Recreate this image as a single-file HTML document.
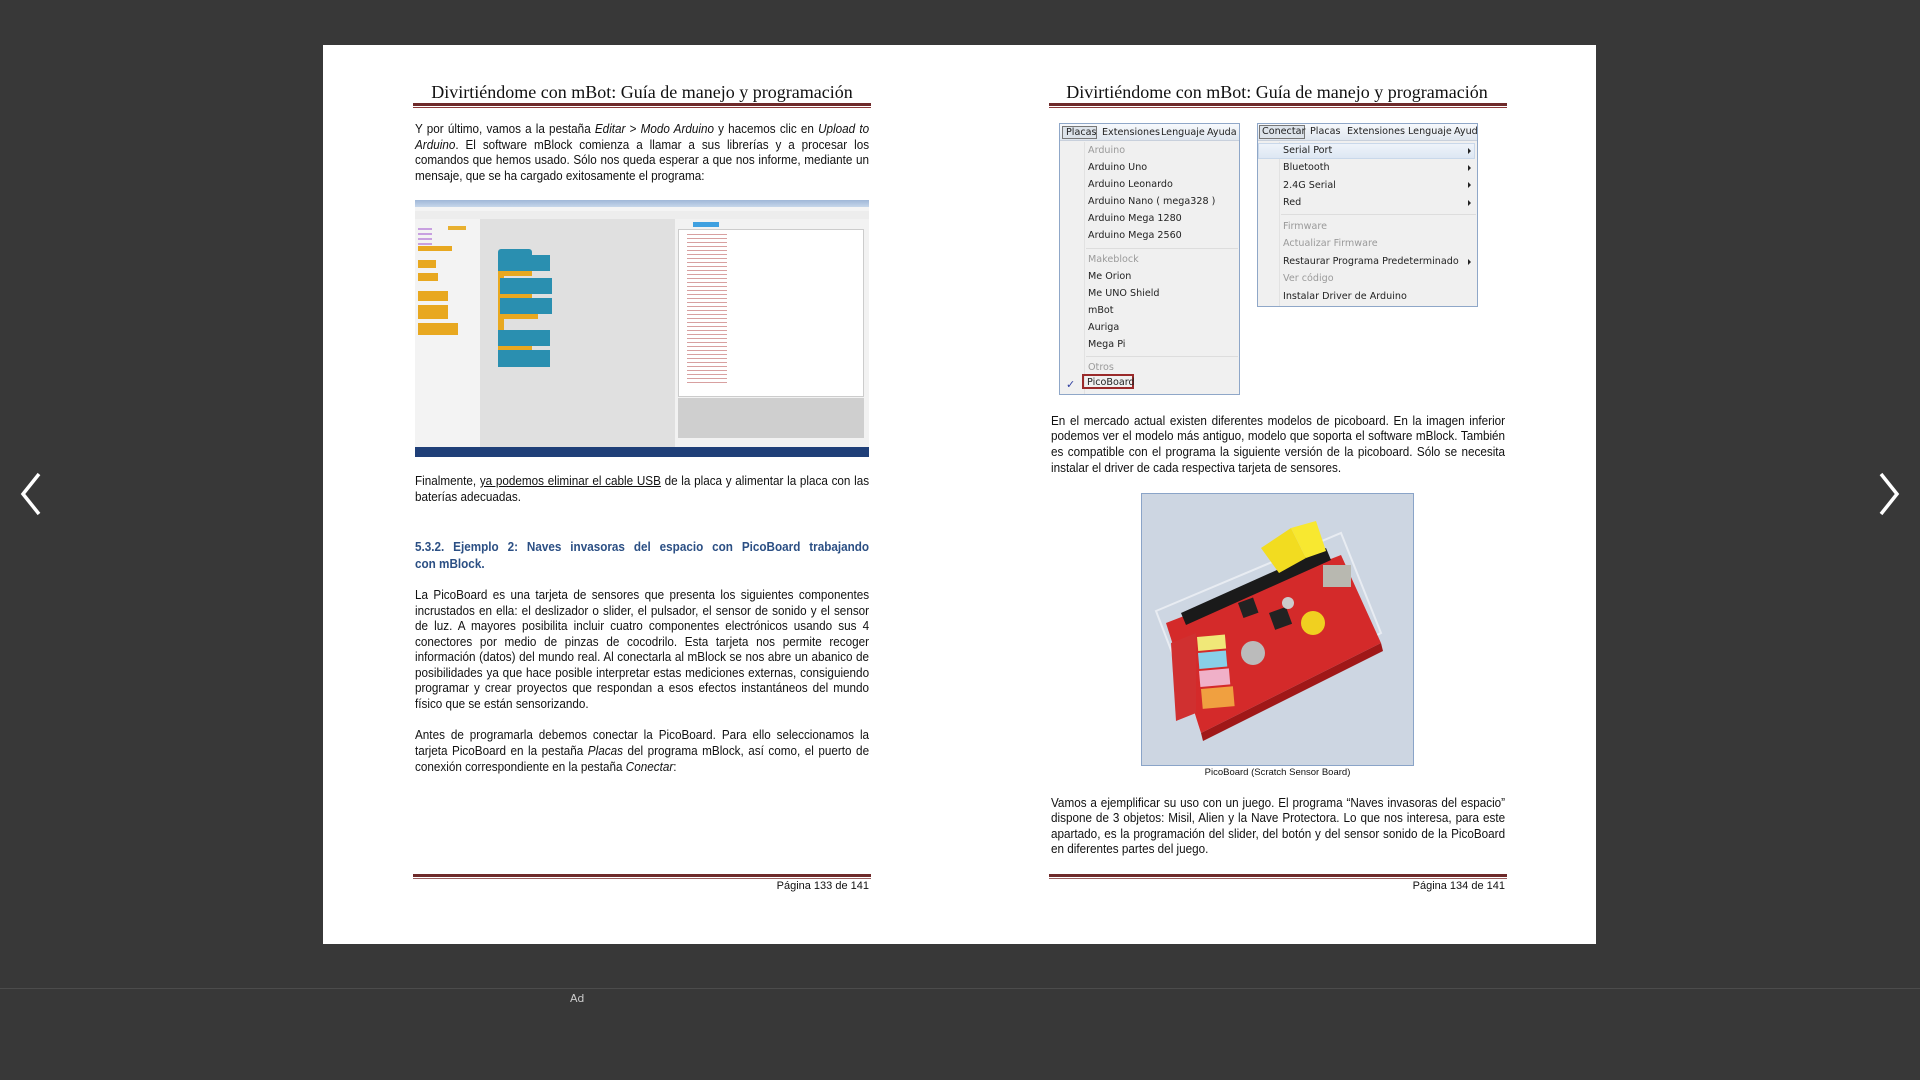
<!DOCTYPE html>
<html><head><meta charset="utf-8">
<style>
*{margin:0;padding:0;box-sizing:border-box}
body{width:1920px;height:1080px;background:#383838;position:relative;overflow:hidden;font-family:"Liberation Sans",sans-serif}
.page{position:absolute;left:323px;top:45px;width:1273px;height:899px;background:#fff}
.abs{position:absolute}
.hdr{position:absolute;font-family:"Liberation Serif",serif;font-size:18px;color:#111;white-space:nowrap;text-align:center;width:460px}
.rule{position:absolute;height:5px;border-top:3px solid #6e2a2a;border-bottom:1px solid #8b3a3a}
.ln{position:absolute;height:16px;font-size:13.3px;line-height:16px;color:#111;white-space:nowrap;transform-origin:0 0;transform:scaleX(0.88);text-align:justify;text-align-last:justify}
.ln.l{text-align-last:left}
.frule{position:absolute;height:5px;border-top:3px solid #6e2a2a;border-bottom:1px solid #9a6060}
.menu{position:absolute;background:#f0f0f0;border:1px solid #8fa7c8;font-family:"DejaVu Sans",sans-serif;font-size:9.6px;color:#222}
.menu .it{position:absolute;white-space:nowrap}
.gray{color:#9a9a9a}
.arr{position:absolute;width:0;height:0;border-top:3px solid transparent;border-bottom:3px solid transparent;border-left:3px solid #222}
</style></head><body>
<div class="page"></div>

<svg class="abs" style="left:18px;top:470px" width="26" height="48"><polyline points="21,4 5,24 21,44" fill="none" stroke="#fff" stroke-width="3.5"/></svg>
<svg class="abs" style="left:1876px;top:470px" width="26" height="48"><polyline points="5,4 21,24 5,44" fill="none" stroke="#fff" stroke-width="3.5"/></svg>

<div class="abs" style="left:0;top:988px;width:1920px;height:1px;background:#4c4c4c"></div>
<div class="abs" style="left:570px;top:992px;font-size:11px;color:#ccc;font-family:'DejaVu Sans',sans-serif">Ad</div>

<!-- LEFT PAGE -->
<div class="hdr" style="left:412px;top:82px">Divirtiéndome con mBot: Guía de manejo y programación</div>
<div class="rule" style="left:413px;top:103px;width:458px"></div>

<div class="ln" style="left:415px;top:121px;width:516px">Y por último, vamos a la pestaña <i>Editar</i> &gt; <i>Modo Arduino</i> y hacemos clic en <i>Upload to</i></div>
<div class="ln" style="left:415px;top:137px;width:516px"><i>Arduino</i>. El software mBlock comienza a llamar a sus librerías y a procesar los</div>
<div class="ln" style="left:415px;top:152px;width:516px">comandos que hemos usado. Sólo nos queda esperar a que nos informe, mediante un</div>
<div class="ln l" style="left:415px;top:168px;width:516px">mensaje, que se ha cargado exitosamente el programa:</div>

<div class="abs" style="left:415px;top:200px;width:454px;height:257px;background:#e6e6e6;overflow:hidden">
  <div class="abs" style="left:0;top:0;width:454px;height:7px;background:linear-gradient(#9fb7d8,#c6d6ea)"></div>
  <div class="abs" style="left:0;top:7px;width:454px;height:4px;background:#f4f4f4"></div>
  <div class="abs" style="left:0;top:11px;width:454px;height:8px;background:#ededed"></div>
  <div class="abs" style="left:0;top:19px;width:65px;height:228px;background:#f3f3f3"></div>
  <div class="abs" style="left:65px;top:19px;width:195px;height:228px;background:#e0e0e0"></div>
  <div class="abs" style="left:260px;top:19px;width:194px;height:228px;background:#f2f2f2"></div>
  <div class="abs" style="left:263px;top:29px;width:186px;height:168px;background:#fff;border:1px solid #ccc"></div>
  <div class="abs" style="left:263px;top:198px;width:186px;height:40px;background:#cfcfcf"></div>
  <div class="abs" style="left:278px;top:22px;width:26px;height:5px;background:#3fa0e0"></div>
  <div class="abs" style="left:3px;top:28px;width:14px;height:24px;background:repeating-linear-gradient(#c8a0e0 0 2px,#f3f3f3 2px 5px)"></div>
  <div class="abs" style="left:33px;top:26px;width:18px;height:4px;background:#e8b030"></div>
  <div class="abs" style="left:3px;top:46px;width:34px;height:5px;background:#e8a820"></div>
  <div class="abs" style="left:3px;top:60px;width:18px;height:8px;background:#e8a820"></div>
  <div class="abs" style="left:3px;top:73px;width:20px;height:8px;background:#e8a820"></div>
  <div class="abs" style="left:3px;top:91px;width:30px;height:10px;background:#e8a820"></div>
  <div class="abs" style="left:3px;top:105px;width:30px;height:14px;background:#e8a820"></div>
  <div class="abs" style="left:3px;top:123px;width:40px;height:12px;background:#e8a820"></div>
  <div class="abs" style="left:83px;top:49px;width:34px;height:6px;background:#2a8fb0;border-radius:3px 3px 0 0"></div>
  <div class="abs" style="left:83px;top:55px;width:52px;height:16px;background:#2a8fb0"></div>
  <div class="abs" style="left:83px;top:71px;width:34px;height:5px;background:#e8a820"></div>
  <div class="abs" style="left:83px;top:76px;width:6px;height:58px;background:#e8a820"></div>
  <div class="abs" style="left:85px;top:78px;width:52px;height:16px;background:#2a8fb0"></div>
  <div class="abs" style="left:85px;top:94px;width:32px;height:4px;background:#e8a820"></div>
  <div class="abs" style="left:85px;top:98px;width:52px;height:16px;background:#2a8fb0"></div>
  <div class="abs" style="left:85px;top:114px;width:38px;height:5px;background:#e8a820"></div>
  <div class="abs" style="left:83px;top:130px;width:52px;height:16px;background:#2a8fb0"></div>
  <div class="abs" style="left:83px;top:146px;width:34px;height:4px;background:#e8a820"></div>
  <div class="abs" style="left:83px;top:150px;width:52px;height:17px;background:#2a8fb0"></div>
  <div class="abs" style="left:272px;top:34px;width:40px;height:150px;background:repeating-linear-gradient(#d8a0a0 0 1px,#fff 1px 4px)"></div>
  <div class="abs" style="left:0;top:247px;width:454px;height:10px;background:#1f3f78"></div>
</div>

<div class="ln" style="left:415px;top:473px;width:516px">Finalmente, <u>ya podemos eliminar el cable USB</u> de la placa y alimentar la placa con las</div>
<div class="ln l" style="left:415px;top:489px;width:516px">baterías adecuadas.</div>

<div class="ln" style="left:415px;top:539px;width:516px;font-weight:bold;color:#2b4f84">5.3.2. Ejemplo 2: Naves invasoras del espacio con PicoBoard trabajando</div>
<div class="ln l" style="left:415px;top:556px;width:516px;font-weight:bold;color:#2b4f84">con mBlock.</div>

<div class="ln" style="left:415px;top:587px;width:516px">La PicoBoard es una tarjeta de sensores que presenta los siguientes componentes</div>
<div class="ln" style="left:415px;top:603px;width:516px">incrustados en ella: el deslizador o slider, el pulsador, el sensor de sonido y el sensor</div>
<div class="ln" style="left:415px;top:618px;width:516px">de luz. A mayores posibilita incluir cuatro componentes electrónicos usando sus 4</div>
<div class="ln" style="left:415px;top:634px;width:516px">conectores por medio de pinzas de cocodrilo. Esta tarjeta nos permite recoger</div>
<div class="ln" style="left:415px;top:649px;width:516px">información (datos) del mundo real. Al conectarla al mBlock se nos abre un abanico de</div>
<div class="ln" style="left:415px;top:665px;width:516px">posibilidades ya que hace posible interpretar estas mediciones externas, consiguiendo</div>
<div class="ln" style="left:415px;top:680px;width:516px">programar y crear proyectos que respondan a esos efectos instantáneos del mundo</div>
<div class="ln l" style="left:415px;top:696px;width:516px">físico que se están sensorizando.</div>

<div class="ln" style="left:415px;top:727px;width:516px">Antes de programarla debemos conectar la PicoBoard. Para ello seleccionamos la</div>
<div class="ln" style="left:415px;top:743px;width:516px">tarjeta PicoBoard en la pestaña <i>Placas</i> del programa mBlock, así como, el puerto de</div>
<div class="ln l" style="left:415px;top:759px;width:516px">conexión correspondiente en la pestaña <i>Conectar</i>:</div>

<div class="frule" style="left:413px;top:874px;width:458px"></div>
<div class="abs" style="left:720px;top:880px;width:149px;text-align:right;font-size:11px;color:#111">Página 133 de 141</div>

<!-- RIGHT PAGE -->
<div class="hdr" style="left:1047px;top:82px">Divirtiéndome con mBot: Guía de manejo y programación</div>
<div class="rule" style="left:1049px;top:103px;width:458px"></div>

<div class="menu" style="left:1059px;top:123px;width:181px;height:272px">
  <div class="abs" style="left:0;top:0;width:179px;height:17px;background:linear-gradient(#f7f9fc,#dfe6ef);border-bottom:1px solid #c8d0dc"></div>
  <div class="abs" style="left:2px;top:2px;width:35px;height:13px;border:1px solid #777;background:#dde3ea"></div>
  <div class="it" style="left:6px;top:3px">Placas</div>
  <div class="it" style="left:42px;top:3px">Extensiones</div>
  <div class="it" style="left:101px;top:3px">Lenguaje</div>
  <div class="it" style="left:147px;top:3px">Ayuda</div>
  <div class="abs" style="left:24px;top:18px;width:1px;height:252px;background:#e2e2e2"></div>
  <div class="it gray" style="left:28px;top:21px">Arduino</div>
  <div class="it" style="left:28px;top:38px">Arduino Uno</div>
  <div class="it" style="left:28px;top:55px">Arduino Leonardo</div>
  <div class="it" style="left:28px;top:72px">Arduino Nano ( mega328 )</div>
  <div class="it" style="left:28px;top:89px">Arduino Mega 1280</div>
  <div class="it" style="left:28px;top:106px">Arduino Mega 2560</div>
  <div class="abs" style="left:26px;top:124px;width:152px;height:1px;background:#ddd"></div>
  <div class="it gray" style="left:28px;top:130px">Makeblock</div>
  <div class="it" style="left:28px;top:147px">Me Orion</div>
  <div class="it" style="left:28px;top:164px">Me UNO Shield</div>
  <div class="it" style="left:28px;top:181px">mBot</div>
  <div class="it" style="left:28px;top:198px">Auriga</div>
  <div class="it" style="left:28px;top:215px">Mega Pi</div>
  <div class="abs" style="left:26px;top:232px;width:152px;height:1px;background:#ddd"></div>
  <div class="it gray" style="left:28px;top:238px">Otros</div>
  <div class="it" style="left:6px;top:254px;color:#3040a0;font-size:11px">✓</div>
  <div class="abs" style="left:22px;top:250px;width:52px;height:15px;border:2px solid #9a2a2a"></div>
  <div class="it" style="left:27px;top:253px">PicoBoard</div>
</div>

<div class="menu" style="left:1257px;top:123px;width:221px;height:184px">
  <div class="abs" style="left:0;top:0;width:219px;height:17px;background:linear-gradient(#f7f9fc,#dfe6ef);border-bottom:1px solid #c8d0dc"></div>
  <div class="abs" style="left:1px;top:1px;width:46px;height:14px;border:1px solid #777;background:#dde3ea"></div>
  <div class="it" style="left:4px;top:2px">Conectar</div>
  <div class="it" style="left:52px;top:2px">Placas</div>
  <div class="it" style="left:89px;top:2px">Extensiones</div>
  <div class="it" style="left:150px;top:2px">Lenguaje</div>
  <div class="it" style="left:196px;top:2px">Ayud</div>
  <div class="abs" style="left:21px;top:18px;width:1px;height:164px;background:#e2e2e2"></div>
  <div class="abs" style="left:0;top:19px;width:217px;height:16px;background:linear-gradient(#eef3fa,#dde7f3);border:1px solid #c9d8ea"></div>
  <div class="it" style="left:25px;top:21px">Serial Port</div><div class="arr" style="left:210px;top:24px"></div>
  <div class="it" style="left:25px;top:38px">Bluetooth</div><div class="arr" style="left:210px;top:41px"></div>
  <div class="it" style="left:25px;top:56px">2.4G Serial</div><div class="arr" style="left:210px;top:58px"></div>
  <div class="it" style="left:25px;top:73px">Red</div><div class="arr" style="left:210px;top:76px"></div>
  <div class="abs" style="left:23px;top:90px;width:195px;height:1px;background:#ddd"></div>
  <div class="it gray" style="left:25px;top:97px">Firmware</div>
  <div class="it gray" style="left:25px;top:114px">Actualizar Firmware</div>
  <div class="it" style="left:25px;top:132px">Restaurar Programa Predeterminado</div><div class="arr" style="left:210px;top:135px"></div>
  <div class="it gray" style="left:25px;top:149px">Ver código</div>
  <div class="it" style="left:25px;top:167px">Instalar Driver de Arduino</div>
</div>

<div class="ln" style="left:1051px;top:413px;width:516px">En el mercado actual existen diferentes modelos de picoboard. En la imagen inferior</div>
<div class="ln" style="left:1051px;top:428px;width:516px">podemos ver el modelo más antiguo, modelo que soporta el software mBlock. También</div>
<div class="ln" style="left:1051px;top:444px;width:516px">es compatible con el programa la siguiente versión de la picoboard. Sólo se necesita</div>
<div class="ln l" style="left:1051px;top:460px;width:516px">instalar el driver de cada respectiva tarjeta de sensores.</div>

<svg class="abs" style="left:1141px;top:493px" width="273" height="273" viewBox="0 0 273 273">
  <rect x="0.5" y="0.5" width="272" height="272" fill="#cdd6e2" stroke="#8aa4c8"/>
  <polygon points="15,118 200,40 240,140 60,235" fill="none" stroke="#e8ecf2" stroke-width="2"/>
  <polygon points="25,130 200,62 240,150 60,240" fill="#d42a2a"/>
  <polygon points="60,240 240,150 242,158 62,248" fill="#a01818"/>
  <polygon points="30,150 55,140 55,220 35,228" fill="#d03030"/>
  <rect x="56" y="144" width="28" height="14" fill="#f0e878" transform="rotate(-5 56 144)"/>
  <rect x="57" y="160" width="28" height="16" fill="#88d0e8" transform="rotate(-5 57 160)"/>
  <rect x="58" y="178" width="30" height="16" fill="#f0b0c8" transform="rotate(-5 58 178)"/>
  <rect x="60" y="196" width="32" height="20" fill="#f0a040" transform="rotate(-5 60 196)"/>
  <polygon points="40,120 185,55 190,67 45,132" fill="#1a1a1a"/>
  <polygon points="120,55 150,35 165,65 138,80" fill="#f2dc20"/>
  <polygon points="150,35 175,28 185,58 165,65" fill="#f8e830"/>
  <rect x="128" y="120" width="18" height="18" fill="#222" transform="rotate(-20 128 120)"/>
  <rect x="97" y="110" width="16" height="16" fill="#222" transform="rotate(-20 97 110)"/>
  <circle cx="112" cy="160" r="12" fill="#bbb"/>
  <circle cx="172" cy="130" r="12" fill="#f0d020"/>
  <rect x="182" y="72" width="28" height="22" fill="#b8b8b0"/>
  <circle cx="147" cy="110" r="6" fill="#ccc"/>
</svg>
<div class="abs" style="left:1141px;top:767px;width:273px;text-align:center;font-size:9.5px;color:#111">PicoBoard (Scratch Sensor Board)</div>

<div class="ln" style="left:1051px;top:795px;width:516px">Vamos a ejemplificar su uso con un juego. El programa “Naves invasoras del espacio”</div>
<div class="ln" style="left:1051px;top:810px;width:516px">dispone de 3 objetos: Misil, Alien y la Nave Protectora. Lo que nos interesa, para este</div>
<div class="ln" style="left:1051px;top:826px;width:516px">apartado, es la programación del slider, del botón y del sensor sonido de la PicoBoard</div>
<div class="ln l" style="left:1051px;top:841px;width:516px">en diferentes partes del juego.</div>

<div class="frule" style="left:1049px;top:874px;width:458px"></div>
<div class="abs" style="left:1356px;top:880px;width:149px;text-align:right;font-size:11px;color:#111">Página 134 de 141</div>
</body></html>
